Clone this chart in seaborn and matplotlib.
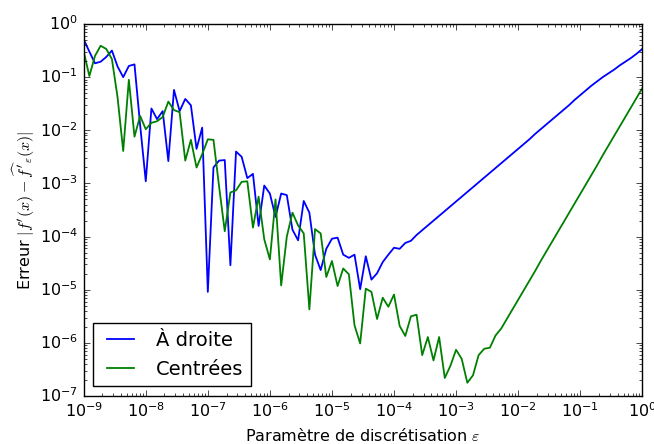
import numpy as np
import pandas as pd
import matplotlib
matplotlib.use("Agg")
import matplotlib.pyplot as plt
import seaborn as sns

plt.style.use("classic")

# grille des pas epsilon (100 points de 1e-9 a 1)
eps = np.logspace(-9, 0, 100)

# log10 de l'erreur
log_err_droite = [
    -0.29, -0.52, -0.74, -0.71, -0.62, -0.50, -0.80, -1.00, -0.79, -0.76,
    -1.90, -2.96, -1.59, -1.79, -1.64, -2.58, -1.24, -1.64, -1.41, -1.53,
    -2.35, -1.95, -5.04, -2.70, -2.57, -2.56, -4.54, -2.40, -2.50, -2.90,
    -2.82, -3.80, -3.04, -3.19, -3.63, -3.19, -3.22, -3.87, -4.07, -3.33,
    -3.55, -4.34, -4.63, -4.23, -4.04, -4.02, -4.34, -4.40, -4.34, -4.99,
    -4.37, -4.81, -4.69, -4.48, -4.34, -4.21, -4.23, -4.12, -4.08, -3.97,
    -3.88, -3.79, -3.70, -3.61, -3.52, -3.43, -3.34, -3.25, -3.16, -3.07,
    -2.98, -2.89, -2.80, -2.71, -2.62, -2.53, -2.44, -2.35, -2.26, -2.17,
    -2.07, -1.98, -1.89, -1.80, -1.71, -1.62, -1.53, -1.43, -1.34, -1.25,
    -1.16, -1.08, -1.00, -0.93, -0.86, -0.78, -0.71, -0.64, -0.56, -0.47,
]
log_err_centrees = [
    -0.52, -0.98, -0.60, -0.41, -0.47, -0.66, -1.38, -2.39, -1.05, -2.12,
    -1.73, -1.98, -1.86, -1.83, -1.75, -1.46, -1.62, -1.66, -2.57, -2.18,
    -2.70, -2.45, -2.17, -2.18, -3.06, -3.90, -3.17, -3.13, -2.97, -2.96,
    -3.83, -3.25, -4.05, -4.43, -3.30, -4.92, -4.00, -3.55, -3.79, -3.94,
    -5.37, -3.86, -3.94, -4.76, -4.46, -4.93, -4.60, -4.71, -5.67, -6.01,
    -4.98, -5.04, -5.55, -5.15, -5.32, -5.09, -5.68, -5.87, -5.50, -5.47,
    -6.23, -5.89, -6.33, -5.89, -6.66, -6.43, -6.13, -6.30, -6.75, -6.61,
    -6.23, -6.11, -6.09, -5.86, -5.73, -5.55, -5.37, -5.19, -5.01, -4.83,
    -4.65, -4.46, -4.28, -4.10, -3.92, -3.74, -3.56, -3.38, -3.20, -3.02,
    -2.84, -2.66, -2.47, -2.29, -2.11, -1.93, -1.75, -1.57, -1.39, -1.21,
]

noms = ["À droite", "Centrées"]
couleurs = {"À droite": "b", "Centrées": "g"}

df = pd.DataFrame({
    "eps": np.concatenate([eps, eps]),
    "err": 10.0 ** np.concatenate([log_err_droite, log_err_centrees]),
    "schema": [noms[0]] * len(eps) + [noms[1]] * len(eps),
})

fig, ax = plt.subplots(figsize=(6.54, 4.44), dpi=100)
fig.subplots_adjust(left=0.128, right=0.982, top=0.946, bottom=0.108)

sns.lineplot(data=df, x="eps", y="err", hue="schema", palette=couleurs,
             estimator=None, sort=False, linewidth=1.3, ax=ax)

ax.set_xscale("log")
ax.set_yscale("log")
ax.set_xlim(1e-9, 1)
ax.set_ylim(1e-7, 1)
ax.tick_params(labelsize=11.5)

ax.set_xlabel(r"Paramètre de discrétisation $\varepsilon$", fontsize=11.5)
ax.set_ylabel(r"Erreur $|f'(x)-\widehat{f'}_\varepsilon(x)|$", fontsize=11.5,
              labelpad=2)

h, l = ax.get_legend_handles_labels()
ax.legend(h, l, loc="lower left", fontsize=14)

fig.savefig("out.png", dpi=100)
